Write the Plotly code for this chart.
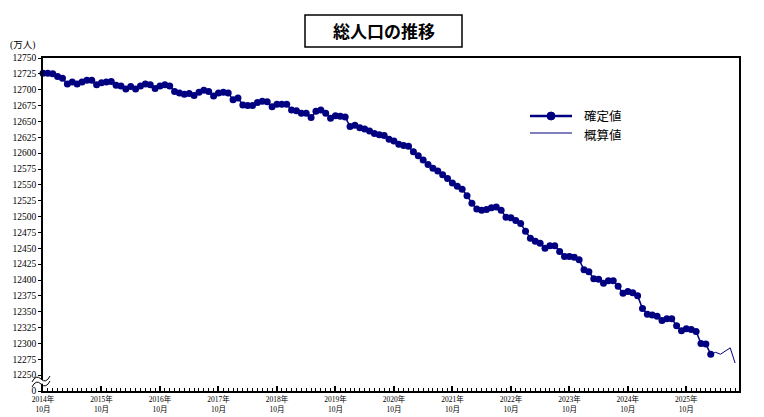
import plotly.graph_objects as go

# ---- data (万人), monthly from 2014年10月 ----
confirmed = [
    12726, 12726, 12725, 12721, 12718, 12709, 12712, 12709, 12712, 12715, 12715, 12708,
    12711, 12712, 12713, 12707, 12706, 12701, 12705, 12701, 12706, 12709, 12708, 12702,
    12706, 12708, 12706, 12697, 12695, 12693, 12694, 12691, 12696, 12699, 12697, 12690,
    12695, 12696, 12695, 12684, 12687, 12676, 12675, 12675, 12680, 12682, 12681, 12673,
    12677, 12677, 12677, 12668, 12667, 12663, 12663, 12656, 12666, 12668, 12663, 12655,
    12659, 12658, 12657, 12642, 12644, 12640, 12638, 12635, 12631, 12629, 12628, 12622,
    12619, 12614, 12612, 12611, 12602, 12596, 12589, 12582, 12576, 12572, 12566, 12560,
    12553, 12548, 12543, 12533, 12521, 12512, 12510, 12511, 12514, 12515, 12510, 12499,
    12498, 12494, 12489, 12477, 12466, 12461, 12458, 12450, 12454, 12454, 12445, 12437,
    12437, 12436, 12432, 12416, 12413, 12402, 12401, 12395, 12399, 12399, 12390, 12379,
    12382, 12380, 12375, 12355, 12346, 12345, 12343, 12336, 12339, 12339, 12328, 12320,
    12323, 12322, 12319, 12300, 12299, 12283,
]
provisional = [12283, 12286, 12283, 12288, 12293, 12269]

year_labels = [f"{y}年<br>10月" for y in range(2014, 2026)]
y_ticks = list(range(12250, 12751, 25))
legend_labels = ["確定値", "概算値"]

x_conf = list(range(len(confirmed)))
x_prov = list(range(len(confirmed) - 1, len(confirmed) - 1 + len(provisional)))

NAVY = "#000080"
W, H = 764, 417
ML, MR, MT, MB = 43, 25, 58, 26
PW, PH = W - ML - MR, H - MT - MB


def px(x):
    return (x - ML) / PW


def py(y):
    return (H - MB - y) / PH


fig = go.Figure()
fig.add_trace(go.Scatter(
    x=x_conf, y=confirmed, mode="lines+markers", name=legend_labels[0],
    line=dict(color=NAVY, width=1.5), marker=dict(color=NAVY, size=7),
    cliponaxis=False, showlegend=False,
))
fig.add_trace(go.Scatter(
    x=x_prov, y=provisional, mode="lines", name=legend_labels[1],
    line=dict(color=NAVY, width=1), showlegend=False,
))

serif = "Liberation Serif, Noto Sans CJK JP"
fig.update_xaxes(
    range=[0, 142.8], showgrid=False, zeroline=False,
    tickvals=[12 * i for i in range(len(year_labels))], ticktext=year_labels,
    ticks="inside", ticklen=5, tickwidth=1.5, tickcolor="black",
    minor=dict(dtick=1, tick0=0, ticks="inside", ticklen=3, tickwidth=1, tickcolor="black"),
    showline=True, linecolor="black", linewidth=2, mirror=True,
    tickfont=dict(family=serif, size=7.5, color="black"),
)
fig.update_yaxes(
    range=[12225, 12750], showgrid=False, zeroline=False,
    tickvals=[12225] + y_ticks, ticktext=["0"] + [str(v) for v in y_ticks],
    ticks="outside", ticklen=3, tickwidth=1, tickcolor="black",
    showline=True, linecolor="black", linewidth=1.5, mirror=True,
    tickfont=dict(family=serif, size=9.5, color="black"),
)

shapes = []
annotations = []
# title box
shapes.append(dict(type="rect", xref="paper", yref="paper",
                   x0=px(305), x1=px(462), y0=py(47), y1=py(15),
                   line=dict(color="black", width=1.5), fillcolor="white"))
annotations.append(dict(xref="paper", yref="paper", x=px(383.5), y=py(31),
                        text="<b>総人口の推移</b>", showarrow=False,
                        font=dict(family="Noto Sans CJK JP", size=17, color="black"),
                        xanchor="center", yanchor="middle"))
# unit label
annotations.append(dict(xref="paper", yref="paper", x=px(8), y=py(45),
                        text="(万人)", showarrow=False,
                        font=dict(family=serif, size=9.5, color="black"),
                        xanchor="left", yanchor="middle"))
# legend (manual)
LY1, LY2 = 116, 133
shapes.append(dict(type="line", xref="paper", yref="paper",
                   x0=px(530), x1=px(572), y0=py(LY1), y1=py(LY1),
                   line=dict(color=NAVY, width=2.5)))
shapes.append(dict(type="circle", xref="paper", yref="paper",
                   xsizemode="pixel", ysizemode="pixel",
                   xanchor=px(551), yanchor=py(LY1),
                   x0=-4, x1=4, y0=-4, y1=4,
                   line=dict(color=NAVY, width=1), fillcolor=NAVY))
shapes.append(dict(type="line", xref="paper", yref="paper",
                   x0=px(530), x1=px(572), y0=py(LY2), y1=py(LY2),
                   line=dict(color=NAVY, width=1)))
for label, yy in zip(legend_labels, (LY1 - 1.5, LY2 + 0.5)):
    annotations.append(dict(xref="paper", yref="paper", x=px(582), y=py(yy),
                            text=label, showarrow=False, height=16,
                            font=dict(family="Noto Sans CJK JP", size=12.5, color="black"),
                            xanchor="left", yanchor="middle"))


# axis break symbol
def wave(dy):
    return (f"M {px(32)},{py(382 + dy)} "
            f"Q {px(36)},{py(374 + dy)} {px(41)},{py(379 + dy)} "
            f"T {px(50)},{py(376 + dy)}")


fill_path = (f"M {px(32)},{py(382)} Q {px(36)},{py(374)} {px(41)},{py(379)} T {px(50)},{py(376)} "
             f"L {px(50)},{py(381)} Q {px(45)},{py(384)} {px(41)},{py(384)} "
             f"Q {px(36)},{py(379)} {px(32)},{py(387)} Z")
shapes.append(dict(type="path", xref="paper", yref="paper", path=fill_path,
                   fillcolor="white", line=dict(width=0), layer="above"))
for dy in (0, 5):
    shapes.append(dict(type="path", xref="paper", yref="paper", path=wave(dy),
                       line=dict(color="black", width=1), layer="above"))

fig.update_layout(
    width=W, height=H, margin=dict(l=ML, r=MR, t=MT, b=MB, autoexpand=False),
    plot_bgcolor="white", paper_bgcolor="white",
    shapes=shapes, annotations=annotations, showlegend=False,
)
fig.write_html("out.html", config={"displayModeBar": False},
               post_script="document.body.style.margin='0';")
